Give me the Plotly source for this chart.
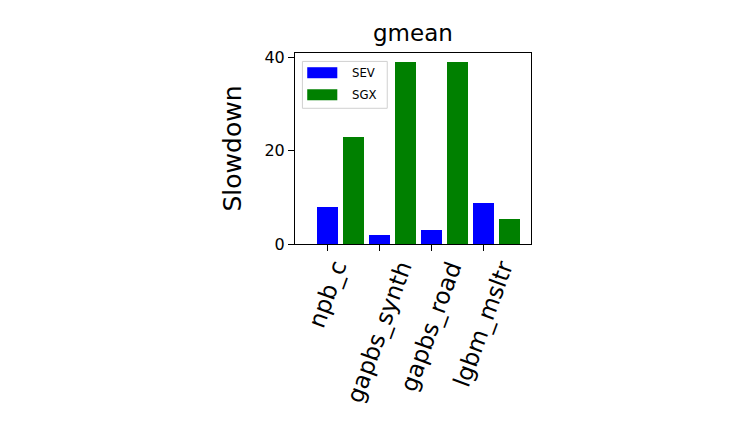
import plotly.graph_objects as go

categories = ["npb_c", "gapbs_synth", "gapbs_road", "lgbm_msltr"]
series_names = ["SEV", "SGX"]
sev_values = [8.0, 1.9, 2.9, 8.8]
sgx_values = [22.9, 39.0, 39.0, 5.4]
series_values = [sev_values, sgx_values]
series_colors = ["#0000ff", "#008000"]
y_ticks = [0, 20, 40]

FONT = "DejaVu Sans"
LEG_FONT = "Liberation Sans Narrow, DejaVu Sans Condensed, DejaVu Sans"
W, H = 756, 430
OFF = 8  # page body margin
L, R, T, B = 295.3 - OFF, 530.7 - OFF, 53.3 - OFF, 244.0 - OFF

fig = go.Figure()
offsets = [0.0, 0.5]
for name, vals, col, off in zip(series_names, series_values, series_colors, offsets):
    fig.add_trace(go.Bar(
        x=[i + off for i in range(len(categories))],
        y=vals, width=0.4, name=name,
        marker=dict(color=col, line=dict(width=0)),
        showlegend=False,
    ))

def px(x):
    return (x - OFF - L) / (R - L)

def py(y):
    return (B - (y - OFF)) / (B - T)

shapes = [
    dict(type="rect", xref="paper", yref="paper",
         x0=px(302.7), x1=px(387.3), y0=py(108.5), y1=py(61.7),
         line=dict(color="#d0d0d0", width=1), fillcolor="rgba(255,255,255,0.8)", layer="above"),
]
annotations = []
rows = [(67.5, 78.5), (89.5, 100.5)]
for (ya, yb), name, col in zip(rows, series_names, series_colors):
    shapes.append(dict(type="rect", xref="paper", yref="paper",
                       x0=px(307.5), x1=px(337.5), y0=py(yb), y1=py(ya),
                       line=dict(width=0), fillcolor=col, layer="above"))
    annotations.append(dict(text=name, xref="paper", yref="paper",
                            x=px(350), y=py((ya + yb) / 2), xanchor="left", yanchor="middle",
                            showarrow=False, font=dict(family=LEG_FONT, size=13, color="black")))

annotations.append(dict(text="gmean", xref="paper", yref="paper", x=0.5, y=1,
                        xanchor="center", yanchor="bottom", yshift=5, showarrow=False,
                        font=dict(family=FONT, size=23, color="black")))

# x tick labels, centred on the ticks like matplotlib's rotated labels
for i, cat in enumerate(categories):
    annotations.append(dict(text=cat, xref="x", yref="paper", x=i, y=0,
                            xanchor="center", yanchor="top", yshift=-11,
                            textangle=-70, showarrow=False,
                            font=dict(family=FONT, size=23.5, color="black")))

fig.update_layout(
    width=W, height=H,
    margin=dict(l=L, r=W - R, t=T, b=H - B, pad=0),
    paper_bgcolor="white", plot_bgcolor="white",
    bargap=0,
    shapes=shapes, annotations=annotations,
    font=dict(family=FONT, color="black"),
)
fig.update_xaxes(
    range=[-0.615, 3.91],
    tickmode="array", tickvals=list(range(len(categories))), showticklabels=False,
    ticks="outside", ticklen=6, tickwidth=1, tickcolor="black",
    showline=True, linecolor="black", linewidth=1, mirror=True,
    showgrid=False, zeroline=False,
)
fig.update_yaxes(
    range=[0, 40.9],
    tickmode="array", tickvals=y_ticks,
    tickfont=dict(family=FONT, size=16, color="black"),
    ticks="outside", ticklen=6, tickwidth=1, tickcolor="black",
    showline=True, linecolor="black", linewidth=1, mirror=True,
    showgrid=False, zeroline=False,
    title=dict(text="Slowdown", font=dict(family=FONT, size=25, color="black"), standoff=15),
)

fig.write_html("out.html")
